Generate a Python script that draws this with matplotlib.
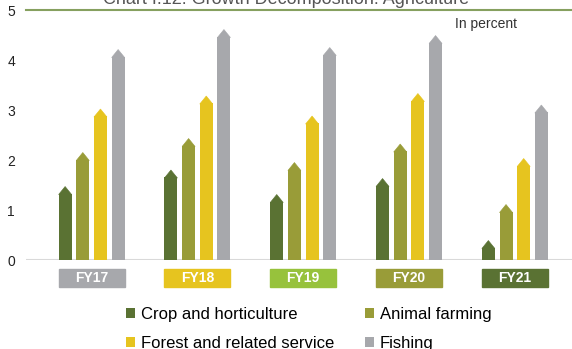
import numpy as np
import matplotlib
matplotlib.use("Agg")
import matplotlib.pyplot as plt
from matplotlib.patches import Rectangle
import matplotlib.transforms as mtransforms

plt.rcParams['font.family'] = ['Liberation Sans', 'DejaVu Sans']

# growth by sub-sector, in percent
years = ['FY17', 'FY18', 'FY19', 'FY20', 'FY21']
crop = [1.47, 1.80, 1.31, 1.63, 0.39]
animal = [2.15, 2.43, 1.95, 2.32, 1.11]
forest = [3.02, 3.28, 2.88, 3.33, 2.03]
fishing = [4.21, 4.61, 4.25, 4.49, 3.10]

series_names = ['Crop and horticulture', 'Animal farming',
                'Forest and related service', 'Fishing']
series_colors = ['#5a7233', '#999c38', '#e6c41f', '#a7a8ac']
year_colors = ['#a7a8ac', '#e6c41f', '#97c23c', '#999c38', '#5a7233']

fig = plt.figure(figsize=(5.72, 3.49), dpi=100)
ax = fig.add_axes([0.0455, 0.255, 0.9545, 0.7163])

x = np.arange(len(years))
width = 0.123
step = 0.167
tip = 0.14  # height of the arrow head

handles = []
for i, vals in enumerate([crop, animal, forest, fishing]):
    vals = np.array(vals)
    xs = x + (i - 1.5) * step
    h = ax.bar(xs, vals - tip, width, color=series_colors[i], linewidth=0,
               label=series_names[i])
    handles.append(h)
    # pointed top on each bar
    for xi, v in zip(xs, vals):
        ax.fill([xi - width / 2, xi, xi + width / 2],
                [v - tip - 0.02, v, v - tip - 0.02],
                facecolor=series_colors[i], edgecolor=series_colors[i],
                linewidth=0.4)

ax.set_xlim(-0.62, 4.54)
ax.set_ylim(0, 5)
ax.set_yticks([0, 1, 2, 3, 4, 5])
ax.tick_params(axis='y', length=0, pad=8, labelsize=10, labelcolor='#222222')
ax.set_xticks([])
for s in ['left', 'right', 'top', 'bottom']:
    ax.spines[s].set_visible(False)
ax.axhline(0, color='#d9d9d9', linewidth=1.5, zorder=0)
ax.axhline(5, color='#86a05f', linewidth=1.5, clip_on=False)

# coloured year boxes under each group
trans = mtransforms.blended_transform_factory(ax.transData, ax.transAxes)
box_w = 0.624
for xi, yr, c in zip(x, years, year_colors):
    ax.add_patch(Rectangle((xi - box_w / 2, -0.108), box_w, 0.072,
                           transform=trans, color=c, clip_on=False))
    ax.text(xi, -0.072, yr, transform=trans, ha='center', va='center',
            color='white', fontsize=10, fontweight='bold')

ax.text(0.786, 0.944, 'In percent', transform=ax.transAxes, ha='left',
        va='center', fontsize=10, color='#333333')

fig.text(0.5, 1 - 4 / 349, 'Chart I.12: Growth Decomposition: Agriculture',
         ha='center', va='baseline', fontsize=13, color='#555555')

order = [0, 2, 1, 3]
fig.legend([handles[k] for k in order], [series_names[k] for k in order],
           ncol=2, loc='upper left', bbox_to_anchor=(0.220, 0.121),
           frameon=False, fontsize=12, handlelength=0.55, handleheight=0.55,
           handletextpad=0.36, columnspacing=1.82, labelspacing=0.86,
           borderpad=0, borderaxespad=0)

fig.savefig('out.png', dpi=100)
